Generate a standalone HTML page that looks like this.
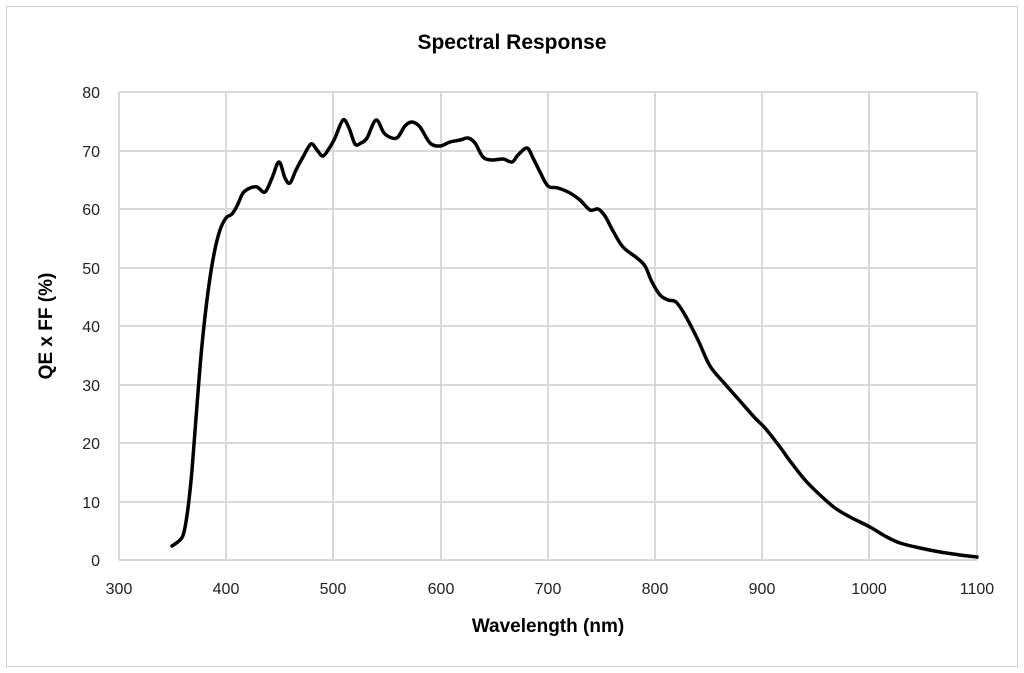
<!DOCTYPE html>
<html><head><meta charset="utf-8"><style>
html,body{margin:0;padding:0;background:#fff;}
svg{display:block;font-family:"Liberation Sans",Arial,sans-serif;}
</style></head><body>
<svg width="1024" height="673" viewBox="0 0 1024 673" xmlns="http://www.w3.org/2000/svg">
<rect x="0" y="0" width="1024" height="673" fill="#fff"/>
<rect x="6.5" y="6.5" width="1011" height="660" fill="none" stroke="#d0d0d0" stroke-width="1"/>
<g stroke="#d9d9d9" stroke-width="2">
<line x1="119" y1="92" x2="977" y2="92"/><line x1="119" y1="151" x2="977" y2="151"/>
<line x1="119" y1="209" x2="977" y2="209"/><line x1="119" y1="268" x2="977" y2="268"/>
<line x1="119" y1="326" x2="977" y2="326"/><line x1="119" y1="385" x2="977" y2="385"/>
<line x1="119" y1="443" x2="977" y2="443"/><line x1="119" y1="502" x2="977" y2="502"/>
<line x1="119" y1="560" x2="977" y2="560"/>
<line x1="119" y1="92" x2="119" y2="560"/><line x1="226" y1="92" x2="226" y2="560"/>
<line x1="333" y1="92" x2="333" y2="560"/><line x1="441" y1="92" x2="441" y2="560"/>
<line x1="548" y1="92" x2="548" y2="560"/><line x1="655" y1="92" x2="655" y2="560"/>
<line x1="762" y1="92" x2="762" y2="560"/><line x1="869" y1="92" x2="869" y2="560"/>
<line x1="977" y1="92" x2="977" y2="560"/>
</g>
<text x="512" y="49" text-anchor="middle" font-size="21" font-weight="bold" fill="#000">Spectral Response</text>
<g font-size="16" fill="#222" text-anchor="end">
<text x="100" y="98">80</text><text x="100" y="157">70</text><text x="100" y="215">60</text>
<text x="100" y="274">50</text><text x="100" y="332">40</text><text x="100" y="391">30</text>
<text x="100" y="449">20</text><text x="100" y="508">10</text><text x="100" y="566">0</text>
</g>
<g font-size="16" fill="#222" text-anchor="middle">
<text x="119" y="594">300</text><text x="226" y="594">400</text><text x="333" y="594">500</text>
<text x="441" y="594">600</text><text x="548" y="594">700</text><text x="655" y="594">800</text>
<text x="762" y="594">900</text><text x="869" y="594">1000</text><text x="977" y="594">1100</text>
</g>
<text x="548" y="632" text-anchor="middle" font-size="19" font-weight="bold" fill="#000">Wavelength (nm)</text>
<text transform="translate(52,326) rotate(-90)" text-anchor="middle" font-size="19" font-weight="bold" fill="#000">QE x FF (%)</text>
<path id="curve" fill="none" stroke="#000" stroke-width="3.5" stroke-linejoin="round" stroke-linecap="round" d=""/>
</svg>
<script>
var p=[[172,546],[180,540],[184,532],[188,508],[192,470],[197,405],[202,345],[208,292],[214,254],[220,230],[226,218],[232,214],[237,206],[243,193],[250,188],[257,187],[265,192],[272,178],[279,162],[285,178],[290,183],[296,170],[303,157],[311,144],[317,150],[323,156],[330,147],[335,138],[343,120],[349,128],[355,144],[361,143],[367,138],[376,120],[384,133],[392,138],[398,137],[405,126],[412,122],[420,127],[430,143],[440,146],[450,142],[460,140],[468,138],[475,143],[483,157],[492,160],[503,159],[512,162],[518,155],[527,148],[533,158],[540,172],[548,186],[558,188],[570,193],[580,200],[590,210],[598,209],[605,216],[613,231],[623,247],[637,258],[645,266],[652,282],[660,295],[668,300],[676,302],[685,315],[698,340],[710,366],[725,384],[740,401],[755,418],[765,428],[780,447],[790,461],[805,480],[820,495],[835,508],[850,517],[870,527],[885,536],[900,543],[920,548],[940,552],[960,555],[977,557]];
var d="M"+p[0][0]+","+p[0][1];
for(var i=0;i<p.length-1;i++){var a=p[i-1]||p[i],b=p[i],c=p[i+1],e=p[i+2]||c;
d+=" C"+(b[0]+(c[0]-a[0])/6)+","+(b[1]+(c[1]-a[1])/6)+" "+(c[0]-(e[0]-b[0])/6)+","+(c[1]-(e[1]-b[1])/6)+" "+c[0]+","+c[1];}
document.getElementById("curve").setAttribute("d",d);
</script>
</body></html>
